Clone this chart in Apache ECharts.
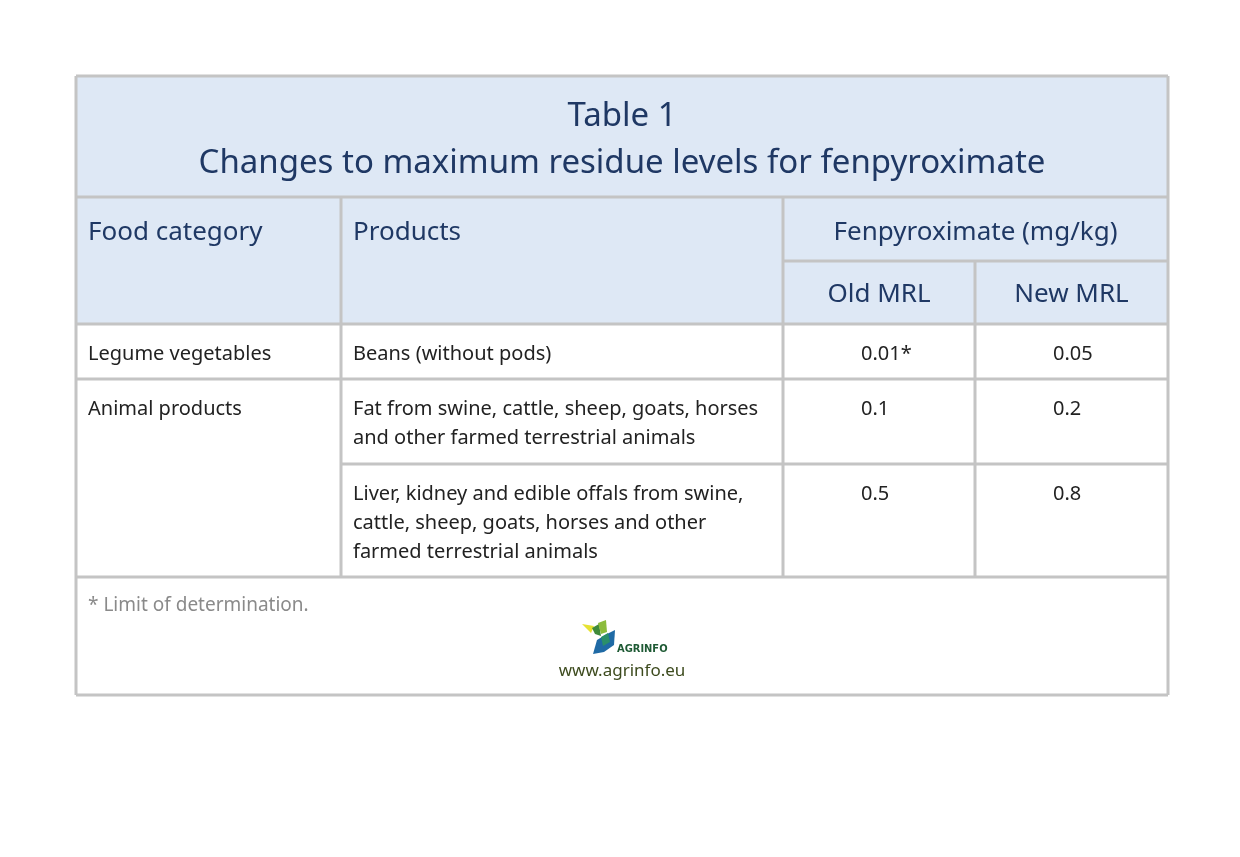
<!DOCTYPE html>
<html>
<head>
<meta charset="utf-8">
<script src="https://cdn.jsdelivr.net/npm/echarts@6/dist/echarts.min.js"></script>
<style>
  html, body { margin: 0; padding: 0; background: #fff; }
  #main { width: 1240px; height: 857px; }
</style>
</head>
<body>
<div id="main"></div>
<script>
// table content
const titleLines = ['Table 1', 'Changes to maximum residue levels for fenpyroximate']
const headers = ['Food category', 'Products', 'Fenpyroximate (mg/kg)']
const subHeaders = ['Old MRL', 'New MRL']
const categories = ['Legume vegetables', 'Animal products']
const products = [
  'Beans (without pods)',
  'Fat from swine, cattle, sheep, goats, horses\nand other farmed terrestrial animals',
  'Liver, kidney and edible offals from swine,\ncattle, sheep, goats, horses and other\nfarmed terrestrial animals'
]
const productCategory = [0, 1, 1]
const oldMRL = ['0.01*', '0.1', '0.5']
const newMRL = ['0.05', '0.2', '0.8']
const footnote = '* Limit of determination.'
const website = 'www.agrinfo.eu'

// layout
const colX = [76, 341, 783, 975, 1168]
const titleTop = 76
const headTop = 197
const headMid = 261
const bodyTop = 324
const rowBottoms = [379, 464, 577]
const tableBottom = 695

const font = '"Source Sans Pro", "Noto Sans", sans-serif'
const navy = '#1f3864'
const bodyColor = '#222222'
const lineColor = '#c4c4c4'
const headBg = '#dee8f5'

const g = []

// header background
g.push({ type: 'rect', shape: { x: colX[0], y: titleTop, width: colX[4] - colX[0], height: bodyTop - titleTop }, style: { fill: headBg }, z: 1 })

function hline(x1, x2, y) {
  g.push({ type: 'line', shape: { x1: x1, y1: y, x2: x2, y2: y }, style: { stroke: lineColor, lineWidth: 3 }, z: 5 })
}
function vline(x, y1, y2) {
  g.push({ type: 'line', shape: { x1: x, y1: y1, x2: x, y2: y2 }, style: { stroke: lineColor, lineWidth: 3 }, z: 5 })
}
function text(str, x, y, opts) {
  g.push({
    type: 'text', x: x, y: y, z: 10,
    style: Object.assign({
      text: str, fontFamily: font, fontSize: 20, fill: bodyColor,
      align: 'left', verticalAlign: 'top', lineHeight: 29
    }, opts || {})
  })
}

// grid lines
hline(colX[0], colX[4], titleTop)
hline(colX[0], colX[4], headTop)
hline(colX[2], colX[4], headMid)
hline(colX[0], colX[4], bodyTop)
hline(colX[0], colX[4], rowBottoms[0])
hline(colX[1], colX[4], rowBottoms[1])
hline(colX[0], colX[4], rowBottoms[2])
hline(colX[0], colX[4], tableBottom)
vline(colX[0], titleTop, tableBottom)
vline(colX[4], titleTop, tableBottom)
vline(colX[1], headTop, rowBottoms[2])
vline(colX[2], headTop, rowBottoms[2])
vline(colX[3], headMid, rowBottoms[2])

// title
text(titleLines[0], (colX[0] + colX[4]) / 2, 117, { fontSize: 33, fill: navy, align: 'center', verticalAlign: 'middle' })
text(titleLines[1], (colX[0] + colX[4]) / 2, 164, { fontSize: 33, fill: navy, align: 'center', verticalAlign: 'middle' })

// headers
text(headers[0], colX[0] + 12, 233, { fontSize: 26, fill: navy, verticalAlign: 'middle' })
text(headers[1], colX[1] + 12, 233, { fontSize: 26, fill: navy, verticalAlign: 'middle' })
text(headers[2], (colX[2] + colX[4]) / 2, 233, { fontSize: 26, fill: navy, align: 'center', verticalAlign: 'middle' })
text(subHeaders[0], (colX[2] + colX[3]) / 2, 295, { fontSize: 26, fill: navy, align: 'center', verticalAlign: 'middle' })
text(subHeaders[1], (colX[3] + colX[4]) / 2, 295, { fontSize: 26, fill: navy, align: 'center', verticalAlign: 'middle' })

// body rows
let rowTop = bodyTop
products.forEach(function (p, i) {
  const c = productCategory[i]
  if (i === 0 || productCategory[i - 1] !== c) {
    text(categories[c], colX[0] + 12, rowTop + 16)
  }
  text(p, colX[1] + 12, rowTop + 16)
  text(oldMRL[i], colX[2] + 78, rowTop + 16)
  text(newMRL[i], colX[3] + 78, rowTop + 16)
  rowTop = rowBottoms[i]
})

// footnote
text(footnote, colX[0] + 12, 606, { fill: '#8a8a8a', fontSize: 19, verticalAlign: 'middle' })

// logo
g.push({ type: 'polygon', shape: { points: [[582, 624], [594, 626], [591, 633]] }, style: { fill: '#e6e232' }, z: 10 })
g.push({ type: 'polygon', shape: { points: [[592, 628], [599, 624], [601, 636], [595, 634]] }, style: { fill: '#3f8a3a' }, z: 10 })
g.push({ type: 'polygon', shape: { points: [[598, 623], [606, 620], [607, 632], [601, 634]] }, style: { fill: '#8cbc3c' }, z: 10 })
g.push({ type: 'polygon', shape: { points: [[597, 640], [607, 634], [615, 630], [614, 645], [604, 652], [593, 654]] }, style: { fill: '#1f6aa5' }, z: 10 })
g.push({ type: 'polygon', shape: { points: [[601, 637], [608, 633], [610, 642], [603, 646]] }, style: { fill: '#2a8f6a' }, z: 11 })
text('AGRINFO', 617, 649, { fontSize: 11, fontWeight: 'bold', fill: '#1e5a34', verticalAlign: 'middle', fontFamily: '"DejaVu Sans Condensed", "DejaVu Sans", sans-serif' })
text(website, 622, 671, { fontSize: 17, fill: '#3d4b1e', align: 'center', verticalAlign: 'middle' })

const chart = echarts.init(document.getElementById('main'))
chart.setOption({
  backgroundColor: '#ffffff',
  animation: false,
  graphic: { elements: g }
})
</script>
</body>
</html>
